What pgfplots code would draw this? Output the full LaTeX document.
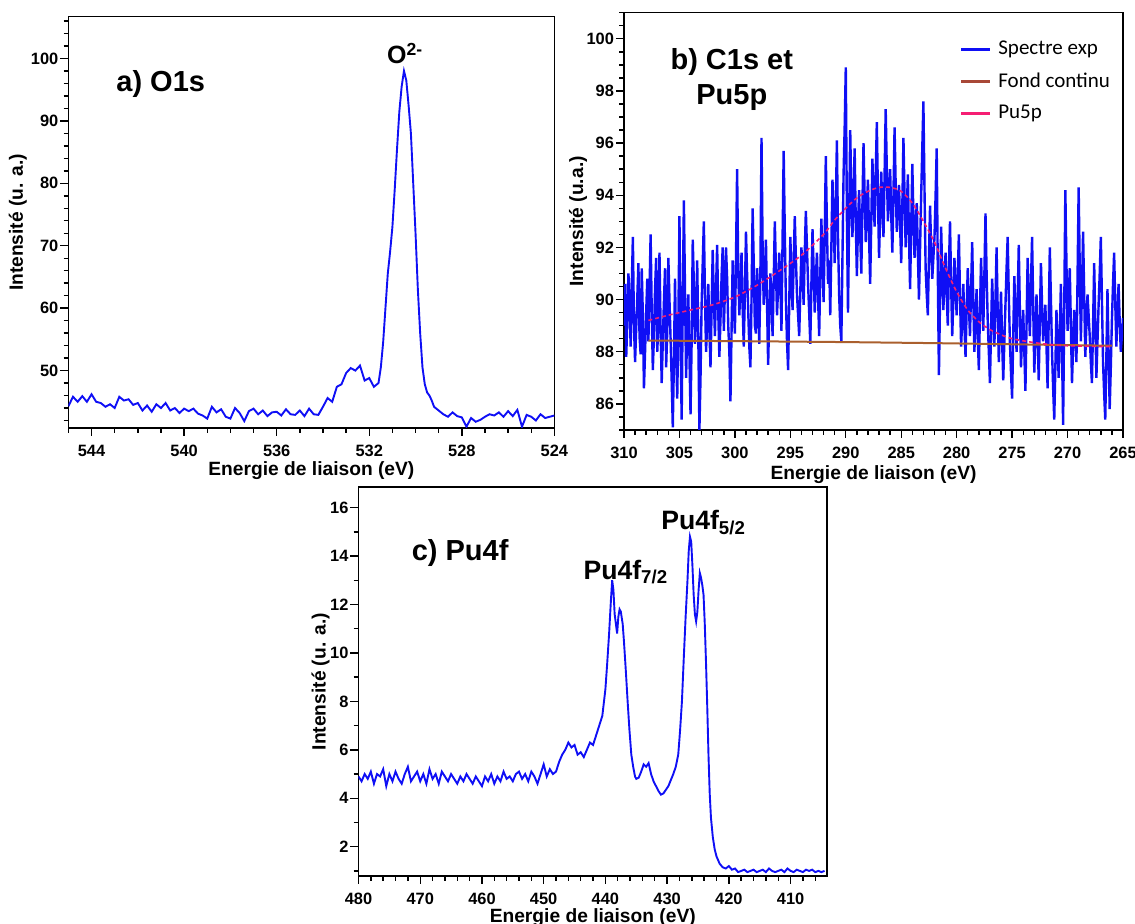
\documentclass[border=0pt]{standalone}
\usepackage{fontspec}
\setmainfont{Liberation Sans}
\newfontfamily\carlito{Carlito}
\usepackage{pgfplots}
\pgfplotsset{compat=1.18}

\definecolor{specblue}{RGB}{15,15,245}
\definecolor{fondbrown}{RGB}{170,95,45}
\definecolor{legbrown}{RGB}{168,72,55}
\definecolor{pupink}{RGB}{245,30,115}

\pgfplotsset{
  xpsstyle/.style={
    scale only axis,
    x dir=reverse,
    axis line style={line width=0.8pt},
    tick align=outside,
    tick pos=left,
    major tick length=4pt,
    minor tick length=2.4pt,
    every tick/.style={black, line width=0.7pt},
    ticklabel style={font=\fontsize{8.2}{9}\selectfont\bfseries},
    xticklabel style={yshift=-1pt},
    yticklabel style={xshift=2.5pt},
    /pgf/number format/assume math mode=true,
    /pgf/number format/1000 sep={},
    label style={font=\fontsize{9.6}{11}\selectfont\bfseries},
    xlabel={Energie de liaison (eV)},
  }
}

\begin{document}
\begin{tikzpicture}
\path[use as bounding box] (0,0) rectangle (567.5pt,462pt);

% ---------------- a) O1s ----------------
\begin{axis}[xpsstyle,
  at={(34.2pt,248pt)}, anchor=south west,
  width=243pt, height=205.65pt,
  xmin=524, xmax=545, ymin=40.8, ymax=106.7,
  xtick={524,528,...,544}, minor xtick={524,...,545},
  ytick={50,60,...,100}, minor ytick={42,44,...,106},
  ylabel={Intensité (u. a.)},
  ylabel style={at={(axis description cs:-0.104,0.5)}, anchor=center},
  xlabel style={at={(axis description cs:0.5,-0.103)}, anchor=center}]
\addplot[specblue, line width=0.95pt, mark=none] table {
545.0 44.3
544.8 45.8
544.6 45.0
544.4 45.9
544.2 45.0
544.0 46.2
543.8 45.0
543.6 44.8
543.4 44.2
543.2 44.6
543.0 44.0
542.8 45.8
542.6 45.2
542.4 45.4
542.2 44.5
542.0 44.8
541.8 43.6
541.6 44.4
541.4 43.4
541.2 44.6
541.0 44.0
540.8 44.8
540.6 43.6
540.4 44.0
540.2 43.2
540.0 43.9
539.8 43.5
539.6 43.9
539.4 43.1
539.2 42.8
539.0 42.3
538.8 44.2
538.6 43.3
538.4 43.8
538.2 42.6
538.0 42.3
537.8 44.0
537.6 43.2
537.4 41.9
537.2 43.5
537.0 43.9
536.8 43.0
536.6 43.6
536.4 42.7
536.2 43.3
536.0 43.4
535.8 42.8
535.6 43.8
535.4 43.0
535.2 42.9
535.0 43.6
534.8 42.7
534.6 43.9
534.4 43.0
534.2 42.9
534.0 44.2
533.8 45.6
533.6 45.0
533.4 47.4
533.2 47.8
533.0 49.6
532.8 50.4
532.6 50.0
532.4 50.8
532.2 48.4
532.0 48.8
531.8 47.4
531.6 48.0
531.5 50.5
531.4 54.5
531.3 60.0
531.2 65.5
531.1 69.0
531.0 73.0
530.9 79.0
530.8 85.5
530.7 91.5
530.6 95.5
530.5 98.0
530.4 96.5
530.3 92.5
530.2 88.0
530.1 80.0
530.0 72.0
529.9 63.0
529.8 56.0
529.7 50.5
529.6 47.8
529.5 46.5
529.4 46.0
529.3 45.2
529.2 44.2
529.0 43.6
528.8 43.0
528.6 42.6
528.4 43.3
528.2 42.7
528.0 42.5
527.8 41.0
527.6 42.4
527.4 41.8
527.2 42.1
527.0 42.6
526.8 43.0
526.6 42.8
526.4 43.3
526.2 42.6
526.0 43.5
525.8 42.7
525.6 43.7
525.4 41.0
525.2 42.9
525.0 42.6
524.8 42.0
524.6 43.0
524.4 42.4
524.2 42.6
524.0 42.8
};
\node[font=\fontsize{14.5}{16}\selectfont\bfseries] at (rel axis cs:0.19,0.836) {a) O1s};
\node[font=\fontsize{12.5}{14}\selectfont\bfseries] at (axis cs:530.45,100.8) {O\textsuperscript{2-}};
\end{axis}

% ---------------- b) C1s et Pu5p ----------------
\begin{axis}[xpsstyle,
  at={(312pt,247pt)}, anchor=south west,
  width=249.5pt, height=208.65pt,
  xmin=265, xmax=310, ymin=85, ymax=101,
  xtick={265,270,...,310}, minor xtick={265,...,310},
  ytick={86,88,...,100}, minor ytick={85,85.5,...,101},
  ylabel={Intensité (u.a.)},
  ylabel style={at={(axis description cs:-0.092,0.5)}, anchor=center},
  xlabel style={at={(axis description cs:0.5,-0.108)}, anchor=center},
  legend style={at={(0.66,0.952)}, anchor=north west, draw=none, fill=none,
    font=\carlito\fontsize{10.5}{12}\selectfont, row sep=3.5pt,
    /tikz/every odd column/.append style={column sep=1.5pt}},
  legend cell align=left,
  legend image code/.code={\draw[#1] (0pt,0pt) -- (14.5pt,0pt);}]
\addlegendimage{specblue, line width=1.3pt}
\addlegendentry{Spectre exp}
\addlegendimage{legbrown, line width=1.3pt}
\addlegendentry{Fond continu}
\addlegendimage{pupink, line width=1.2pt}
\addlegendentry{Pu5p}
\addplot[forget plot, specblue, line width=1.2pt, mark=none] table {
310.0 89.0
309.9 90.6
309.8 87.8
309.7 89.2
309.6 91.0
309.5 89.9
309.4 88.2
309.3 90.5
309.2 92.4
309.1 89.0
309.0 87.6
308.9 88.9
308.8 90.1
308.7 91.4
308.6 88.6
308.5 87.9
308.4 91.2
308.3 89.4
308.2 86.6
308.1 88.0
308.0 89.5
307.9 90.8
307.8 88.4
307.7 90.3
307.6 92.5
307.5 89.6
307.4 87.3
307.3 88.6
307.2 90.4
307.1 91.6
307.0 88.0
306.9 89.1
306.8 91.8
306.7 88.9
306.6 86.8
306.5 88.4
306.4 89.9
306.3 91.2
306.2 87.4
306.1 88.8
306.0 91.6
305.9 90.0
305.8 88.5
305.7 86.9
305.6 85.1
305.5 87.6
305.4 90.8
305.3 88.1
305.2 86.2
305.1 89.0
305.0 93.2
304.9 88.6
304.8 85.4
304.7 89.9
304.6 93.8
304.5 90.4
304.4 87.0
304.3 88.8
304.2 90.2
304.1 87.9
304.0 85.6
303.9 88.4
303.8 92.3
303.7 90.6
303.6 88.3
303.5 89.2
303.4 91.5
303.3 88.6
303.2 85.0
303.1 87.0
303.0 89.8
302.9 91.4
302.8 93.0
302.7 90.2
302.6 88.0
302.5 89.1
302.4 90.6
302.3 88.9
302.2 87.4
302.1 89.6
302.0 91.9
301.9 90.1
301.8 88.6
301.7 90.4
301.6 92.1
301.5 89.5
301.4 87.8
301.3 89.2
301.2 90.9
301.1 92.0
301.0 88.8
300.9 90.3
300.8 92.0
300.7 90.8
300.6 89.0
300.5 88.0
300.4 86.1
300.3 88.8
300.2 91.5
300.1 89.9
300.0 88.7
299.9 91.6
299.8 95.0
299.7 91.2
299.6 89.4
299.5 90.5
299.4 91.8
299.3 89.7
299.2 88.2
299.1 90.2
299.0 92.6
298.9 91.0
298.8 89.6
298.7 88.2
298.6 87.4
298.5 90.0
298.4 93.5
298.3 91.4
298.2 89.0
298.1 88.7
298.0 91.2
297.9 90.2
297.8 88.3
297.7 91.0
297.6 96.2
297.5 92.0
297.4 89.8
297.3 90.9
297.2 92.3
297.1 89.8
297.0 87.5
296.9 89.4
296.8 91.0
296.7 90.0
296.6 88.6
296.5 90.7
296.4 93.0
296.3 91.2
296.2 89.4
296.1 90.5
296.0 91.8
295.9 90.6
295.8 88.8
295.7 92.3
295.6 95.7
295.5 92.6
295.4 90.0
295.3 88.4
295.2 87.3
295.1 89.8
295.0 92.4
294.9 91.0
294.8 89.6
294.7 91.4
294.6 93.2
294.5 91.6
294.4 90.2
294.3 89.4
294.2 88.6
294.1 90.3
294.0 92.0
293.9 91.1
293.8 89.8
293.7 91.8
293.6 93.4
293.5 92.0
293.4 90.6
293.3 89.5
293.2 88.3
293.1 90.6
293.0 92.7
292.9 91.2
292.8 89.5
292.7 90.8
292.6 91.8
292.5 90.1
292.4 88.6
292.3 90.9
292.2 93.1
292.1 91.4
292.0 89.9
291.9 92.4
291.8 95.5
291.7 92.8
291.6 90.6
291.5 91.5
291.4 89.4
291.3 92.0
291.2 94.6
291.1 93.2
291.0 91.4
290.9 93.6
290.8 96.1
290.7 92.4
290.6 90.2
290.5 89.0
290.4 88.4
290.3 91.6
290.2 94.8
290.1 96.6
290.0 98.9
289.9 93.2
289.8 89.5
289.7 93.0
289.6 96.5
289.5 94.0
289.4 92.4
289.3 94.0
289.2 95.8
289.1 93.0
289.0 90.9
288.9 92.8
288.8 94.2
288.7 92.5
288.6 91.0
288.5 93.6
288.4 96.0
288.3 94.0
288.2 92.2
288.1 93.5
288.0 94.6
287.9 92.4
287.8 90.6
287.7 93.0
287.6 95.4
287.5 94.0
287.4 92.8
287.3 94.8
287.2 96.8
287.1 94.0
287.0 91.6
286.9 93.3
286.8 94.9
286.7 93.4
286.6 92.4
286.5 94.8
286.4 97.3
286.3 95.0
286.2 93.0
286.1 94.2
286.0 95.0
285.9 93.2
285.8 91.8
285.7 94.0
285.6 96.6
285.5 94.4
285.4 92.6
285.3 93.6
285.2 94.4
285.1 92.8
285.0 91.4
284.9 93.6
284.8 96.2
284.7 94.0
284.6 92.0
284.5 93.4
284.4 94.8
284.3 92.4
284.2 90.4
284.1 92.8
284.0 95.2
283.9 93.2
283.8 91.6
283.7 92.8
283.6 93.7
283.5 91.8
283.4 90.0
283.3 92.0
283.2 94.0
283.1 95.8
283.0 97.6
282.9 94.2
282.8 91.2
282.7 90.2
282.6 89.4
282.5 91.6
282.4 93.6
282.3 92.0
282.2 90.8
282.1 91.6
282.0 92.4
281.9 94.0
281.8 95.8
281.7 91.0
281.6 87.1
281.5 90.0
281.4 92.8
281.3 91.0
281.2 89.6
281.1 90.8
281.0 91.8
280.9 90.2
280.8 89.0
280.7 91.2
280.6 93.0
280.5 90.6
280.4 88.6
280.3 90.0
280.2 91.6
280.1 90.4
280.0 89.4
279.9 91.0
279.8 92.5
279.7 90.2
279.6 88.2
279.5 89.2
279.4 90.6
279.3 89.0
279.2 87.8
279.1 89.6
279.0 91.2
278.9 89.8
278.8 88.6
278.7 90.4
278.6 92.2
278.5 89.9
278.4 88.0
278.3 89.4
278.2 90.4
278.1 88.6
278.0 87.3
277.9 89.5
277.8 91.6
277.7 90.0
277.6 88.8
277.5 91.0
277.4 93.3
277.3 91.0
277.2 89.2
277.1 88.0
277.0 86.8
276.9 88.8
276.8 90.8
276.7 89.4
276.6 88.2
276.5 90.0
276.4 92.0
276.3 89.6
276.2 87.6
276.1 89.0
276.0 90.3
275.9 88.4
275.8 86.9
275.7 88.4
275.6 89.8
275.5 91.2
275.4 92.4
275.3 90.2
275.2 88.4
275.1 87.2
275.0 86.2
274.9 88.6
274.8 90.9
274.7 89.4
274.6 88.0
274.5 90.0
274.4 92.1
274.3 89.6
274.2 87.4
274.1 88.6
274.0 89.6
273.9 88.0
273.8 86.5
273.7 89.0
273.6 91.6
273.5 90.0
273.4 88.6
273.3 90.6
273.2 92.4
273.1 89.8
273.0 87.2
272.9 88.6
272.8 90.2
272.7 88.6
272.6 86.9
272.5 89.2
272.4 91.4
272.3 89.8
272.2 88.4
272.1 89.0
272.0 89.8
271.9 88.2
271.8 86.6
271.7 89.2
271.6 92.0
271.5 90.0
271.4 88.0
271.3 86.6
271.2 85.4
271.1 87.4
271.0 89.6
270.9 88.2
270.8 87.0
270.7 88.8
270.6 90.6
270.5 88.0
270.4 85.2
270.3 89.6
270.2 94.2
270.1 91.4
270.0 88.8
269.9 90.0
269.8 91.2
269.7 89.0
269.6 86.8
269.5 88.2
269.4 89.6
269.3 88.6
269.2 87.6
269.1 90.8
269.0 94.3
268.9 91.2
268.8 88.4
268.7 90.4
268.6 92.6
268.5 90.2
268.4 87.8
268.3 89.0
268.2 90.2
268.1 89.4
268.0 88.6
267.9 87.6
267.8 86.8
267.7 89.0
267.6 91.4
267.5 89.2
267.4 87.0
267.3 88.4
267.2 89.8
267.1 91.0
267.0 92.4
266.9 90.0
266.8 87.6
266.7 86.4
266.6 85.4
266.5 87.8
266.4 90.4
266.3 88.0
266.2 85.8
266.1 87.4
266.0 89.2
265.9 90.6
265.8 91.8
265.7 89.9
265.6 88.2
265.5 89.4
265.4 90.6
265.3 89.2
265.2 88.0
265.1 88.6
265.0 89.3
};
\addplot[forget plot, fondbrown, line width=1pt, mark=none] table {
307.8 88.43
298.0 88.40
290.0 88.37
282.0 88.33
274.0 88.28
266.0 88.23
};
\addplot[forget plot, pupink, line width=0.8pt, dash pattern=on 2pt off 1.5pt, smooth, mark=none] table {
307.8 89.2
306.0 89.4
304.0 89.6
302.0 89.8
300.0 90.1
298.0 90.55
296.0 91.1
294.0 91.7
292.0 92.5
291.0 93.05
290.0 93.5
289.0 93.9
288.0 94.15
287.0 94.3
286.0 94.3
285.0 94.15
284.0 93.7
283.0 93.0
282.0 92.2
281.0 91.2
280.0 90.3
279.0 89.6
278.0 89.15
277.0 88.85
276.0 88.65
275.0 88.5
273.0 88.35
271.0 88.25
269.0 88.22
267.0 88.2
266.0 88.2
};
\node[font=\fontsize{14.5}{17.5}\selectfont\bfseries, align=center] at (rel axis cs:0.216,0.84) {b) C1s et\\Pu5p};
\end{axis}

% ---------------- c) Pu4f ----------------
\begin{axis}[xpsstyle,
  at={(179.25pt,24pt)}, anchor=south west,
  width=234.25pt, height=194.35pt,
  xmin=404.1, xmax=480, ymin=0.79, ymax=16.84,
  xtick={410,420,...,480}, minor xtick={404,406,...,480},
  ytick={2,4,...,16}, minor ytick={1,2,...,16},
  ylabel={Intensité (u. a.)},
  ylabel style={at={(axis description cs:-0.081,0.5)}, anchor=center},
  xlabel style={at={(axis description cs:0.5,-0.108)}, anchor=center}]
\addplot[specblue, line width=0.95pt, mark=none] table {
480.0 4.9
479.5 4.7
479.0 5.0
478.5 4.8
478.0 5.1
477.5 4.6
477.0 5.0
476.5 4.9
476.0 5.2
475.5 4.5
475.0 5.0
474.5 4.7
474.0 5.1
473.5 4.8
473.0 4.6
472.5 5.0
472.0 5.3
471.5 4.7
471.0 4.9
470.5 5.1
470.0 4.7
469.5 5.0
469.0 4.6
468.5 5.2
468.0 4.8
467.5 5.0
467.0 4.6
466.5 5.1
466.0 4.9
465.5 4.7
465.0 5.0
464.5 4.8
464.0 4.6
463.5 4.9
463.0 4.7
462.5 5.0
462.0 4.8
461.5 4.6
461.0 4.9
460.5 4.7
460.0 4.5
459.5 4.9
459.0 4.7
458.5 5.0
458.0 4.6
457.5 4.9
457.0 4.7
456.5 5.1
456.0 4.8
455.5 4.9
455.0 4.7
454.5 5.0
454.0 5.1
453.5 4.8
453.0 5.0
452.5 4.7
452.0 5.1
451.5 4.9
451.0 4.6
450.5 5.0
450.0 5.4
449.5 4.9
449.0 5.2
448.5 5.0
448.0 5.1
447.5 5.5
447.0 5.8
446.5 6.0
446.0 6.3
445.5 6.1
445.0 6.2
444.5 5.8
444.0 5.9
443.5 5.7
443.0 6.0
442.5 6.3
442.0 6.2
441.5 6.6
441.0 7.0
440.5 7.4
440.0 8.5
439.7 9.6
439.4 10.8
439.1 12.2
438.9 13.0
438.7 12.6
438.5 11.6
438.3 11.2
438.1 10.8
437.9 11.5
437.7 11.8
437.5 11.7
437.2 11.2
437.0 10.5
436.7 9.3
436.4 8.0
436.1 6.8
435.8 5.8
435.5 5.3
435.2 4.9
435.0 4.8
434.6 4.85
434.2 5.1
433.8 5.4
433.4 5.3
433.0 5.45
432.6 5.0
432.2 4.7
431.8 4.5
431.4 4.3
431.0 4.15
430.6 4.2
430.2 4.35
429.8 4.5
429.4 4.75
429.0 5.0
428.6 5.3
428.2 5.8
427.9 6.8
427.6 8.0
427.3 9.8
427.0 11.5
426.7 13.0
426.5 14.2
426.3 14.8
426.1 14.6
425.9 13.6
425.7 12.4
425.5 11.6
425.3 11.3
425.1 11.7
424.9 12.6
424.7 13.3
424.5 13.1
424.3 12.8
424.1 12.4
423.9 11.2
423.7 9.6
423.5 7.8
423.3 5.8
423.1 4.2
422.9 3.2
422.6 2.4
422.3 1.9
422.0 1.6
421.5 1.3
421.0 1.15
420.5 1.1
420.0 1.2
419.5 1.05
419.0 1.1
418.5 0.95
418.0 1.0
417.5 1.05
417.0 0.95
416.5 1.0
416.0 1.05
415.5 0.95
415.0 1.0
414.5 1.05
414.0 0.95
413.5 1.1
413.0 1.0
412.5 0.95
412.0 1.0
411.5 1.05
411.0 0.95
410.5 1.1
410.0 1.0
409.5 0.95
409.0 1.05
408.5 1.0
408.0 0.95
407.5 1.05
407.0 1.0
406.5 1.05
406.0 0.95
405.5 1.0
405.0 0.95
404.5 1.0
};
\node[font=\fontsize{14.5}{16}\selectfont\bfseries] at (rel axis cs:0.217,0.831) {c) Pu4f};
\node[font=\fontsize{13.3}{15}\selectfont\bfseries, anchor=base west, inner sep=0pt] at (axis cs:443.6,13.04) {Pu4f\textsubscript{7/2}};
\node[font=\fontsize{13.3}{15}\selectfont\bfseries, anchor=base west, inner sep=0pt] at (axis cs:431.0,15.08) {Pu4f\textsubscript{5/2}};
\end{axis}
\end{tikzpicture}
\end{document}
